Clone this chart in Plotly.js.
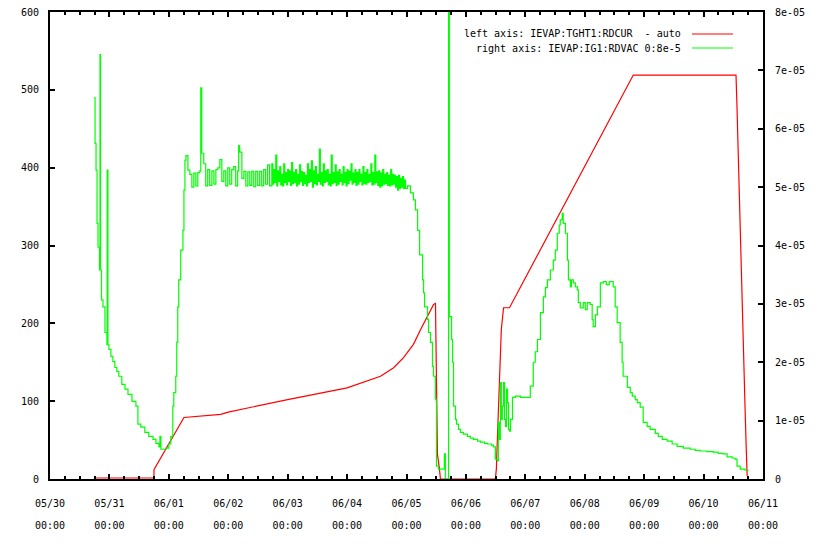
<!DOCTYPE html>
<html>
<head>
<meta charset="utf-8">
<script src="https://cdn.plot.ly/plotly-3.0.1.min.js"></script>
<style>html,body{margin:0;padding:0;background:#fff;}#chart{width:820px;height:554px;}</style>
</head>
<body>
<div id="chart"></div>
<script>
// ---- data (x in hours since 05/30 00:00) ----
const baseDay = '2012-05-30';
const tickDays = ['05/30','05/31','06/01','06/02','06/03','06/04','06/05','06/06','06/07','06/08','06/09','06/10','06/11'];
const tickTimes = ['00:00','00:00','00:00','00:00','00:00','00:00','00:00','00:00','00:00','00:00','00:00','00:00','00:00'];
const tickDates = ['2012-05-30','2012-05-31','2012-06-01','2012-06-02','2012-06-03','2012-06-04','2012-06-05','2012-06-06','2012-06-07','2012-06-08','2012-06-09','2012-06-10','2012-06-11'];
const leftTicks = [0,100,200,300,400,500,600];
const rightTickVals = [0,1e-5,2e-5,3e-5,4e-5,5e-5,6e-5,7e-5,8e-5];
const rightTickText = ['0','1e-05','2e-05','3e-05','4e-05','5e-05','6e-05','7e-05','8e-05'];

const redName = 'left axis: IEVAP:TGHT1:RDCUR  - auto';
const greenName = 'right axis: IEVAP:IG1:RDVAC 0:8e-5';

// IEVAP:TGHT1:RDCUR (left axis)
const redHours = [17.7,42.0,42.0,54.1,69.0,72.0,96.0,120.0,133.5,138.8,142.8,146.8,149.7,152.5,154.9,155.7,156.1,156.5,157.3,157.7,179.9,180.3,180.7,181.5,182.3,183.2,185.6,235.6,277.1,277.5,277.9,278.3,278.8,279.2,279.6,280.0,280.4,280.8,281.2,281.6];
const redVals  = [1.3,1.3,12,79,83,86,102,117,132,143,156,173,192,209,224,226,83,32,13,0,0,13,51,124,192,220,220,519,519,477,425,374,329,278,234,182,138,86,42,4];

// IEVAP:IG1:RDVAC (right axis), values in units of 1e-5
// segment 1: pump-down and rise (05/30 - 06/01)
const greenHoursA = [17.7,18.2,18.6,19.0,19.4,20.0,20.2,20.4,20.8,21.4,22.2,23.0,23.1,23.4,23.8,24.6,25.4,26.2,27.0,27.8,29.0,30.3,31.5,33.1,34.7,35.5,36.7,38.3,39.9,41.6,42.8,44.0,44.4,44.8,46.8,48.0,48.8,49.6,50.0,50.8,51.2,51.6,52.0,52.8,53.7,54.1,54.5,54.9];
const greenValsA  = [6.53,5.75,5.29,4.38,3.97,3.58,7.27,3.58,3.07,2.95,2.51,2.30,5.29,2.30,2.22,2.10,2.01,1.91,1.84,1.76,1.62,1.54,1.45,1.33,1.25,0.94,0.89,0.80,0.73,0.68,0.61,0.55,0.73,0.51,0.53,0.60,0.73,1.25,1.48,1.76,2.34,2.95,3.41,3.92,4.26,4.95,5.46,5.54];
// segment 2: noisy plateau 06/01 - 06/03
const greenHoursB = [55.7,56.5,57.3,58.1,58.9,59.7,60.5,60.9,61.3,62.1,62.9,63.7,64.5,65.4,66.2,67.0,67.8,68.6,69.4,70.2,71.0,71.8,72.6,73.4,74.2,75.0,75.8,76.2,76.6,77.5,78.3,79.1,79.9,80.7,81.5,82.3,83.1,83.9,84.7,85.5,86.3,87.1,87.9,88.7];
const greenValsB  = [5.29,5.22,5.00,5.24,5.02,5.25,5.28,6.70,5.58,5.40,5.02,5.30,5.03,5.28,5.05,5.30,5.33,5.47,5.10,5.28,5.02,5.33,5.05,5.30,5.35,5.02,5.28,5.71,5.60,5.15,5.27,5.02,5.26,5.03,5.27,5.01,5.27,5.03,5.27,5.02,5.30,5.05,5.38,5.02];
// segment 3: dense noisy plateau 06/03 - 06/05
const greenHoursC = [89.6,90.0,90.4,90.8,91.2,91.6,92.0,92.4,92.8,93.2,93.6,94.0,94.4,94.8,95.2,95.6,96.0,96.4,96.8,97.2,97.6,98.0,98.4,98.8,99.2,99.6,100.0,100.4,100.8,101.2,101.6,102.0,102.4,102.8,103.2,103.6,104.0,104.4,104.8,105.2,105.6,106.0,106.4,106.8,107.2,107.6,108.0,108.4,108.8,109.2,109.6,110.0,110.4,110.8,111.2,111.6,112.0,112.4,112.8,113.2,113.6,114.0,114.4,114.8,115.2,115.6,116.0,116.4,116.8,117.2,117.6,118.0,118.4,118.8,119.2,119.6,120.0,120.4,120.8,121.2,121.6,122.0,122.4,122.8,123.2,123.6,124.0,124.4,124.8,125.2,125.6,126.0,126.4,126.8,127.2,127.6,128.0,128.4,128.8,129.2,129.6,130.0,130.4,130.8,131.2,131.6,132.0,132.4,132.8,133.2,133.6,134.0,134.4,134.8,135.2,135.6,136.0,136.4,136.8,137.2,137.6,138.0,138.4,138.8,139.2,139.6,140.0,140.4,140.8,141.2,141.6,142.0,142.4,142.8,143.2,143.6];
const greenValsC  = [5.40,5.05,5.30,5.08,5.55,5.02,5.28,5.10,5.35,5.04,
5.22,5.02,5.40,5.08,5.25,5.04,5.30,5.10,5.28,5.03,
5.42,5.06,5.25,5.08,5.30,5.02,5.22,5.05,5.38,5.10,
5.27,5.03,5.25,5.06,5.20,5.02,5.40,5.08,5.30,5.10,
5.45,5.00,5.28,5.06,5.35,5.04,5.22,5.10,5.65,5.05,
5.25,5.02,5.40,5.08,5.28,5.10,5.30,5.04,5.22,5.02,
5.55,5.06,5.25,5.08,5.38,5.03,5.26,5.05,5.30,5.10,
5.22,5.04,5.35,5.08,5.25,5.02,5.30,5.06,5.27,5.12,
5.40,5.05,5.24,5.08,5.30,5.03,5.25,5.05,5.30,5.10,
5.22,5.04,5.35,5.06,5.25,5.05,5.30,5.08,5.22,5.10,
5.40,5.04,5.25,5.05,5.55,5.08,5.26,5.03,5.28,5.00,
5.24,5.02,5.30,5.05,5.22,5.06,5.25,5.03,5.20,5.02,
5.30,5.04,5.22,5.05,5.20,5.00,5.18,4.95,5.20,4.98,
5.15,5.00,5.18,4.98,5.12,4.98];
// segment 4: 06/05 drop, burst, second pump-down and bake (06/05 - 06/11)
const greenHoursD = [144.4,145.6,146.8,147.6,148.5,149.3,150.5,150.9,151.3,152.5,152.9,153.7,154.5,154.9,155.7,156.1,156.9,158.9,159.3,159.7,161.0,161.3,162.2,162.6,163.0,163.8,164.2,165.0,165.8,167.0,168.6,169.8,171.0,172.7,173.9,175.5,176.7,178.3,179.1,179.9,180.7,181.1,181.5,181.9,182.3,182.7,183.2,183.6,184.0,184.4,184.8,185.2,185.6,186.0,186.8,188.0,190.0,192.8,194.0,195.2,196.0,196.9,198.1,199.3,200.1,200.9,202.1,203.3,204.1,204.9,205.7,206.1,206.9,207.3,208.2,209.0,209.4,210.2,210.6,211.4,212.2,213.0,213.4,214.2,215.4,216.2,217.0,218.2,219.0,219.4,220.3,221.1,222.3,223.5,224.7,225.9,227.1,227.5,228.3,229.1,230.3,231.1,231.5,233.2,234.4,235.2,236.4,237.2,238.4,239.6,241.2,242.4,244.5,245.7,247.3,249.3,251.3,253.3,255.8,258.6,260.6,262.6,265.4,267.9,269.9,271.9,273.5,275.5,276.7,277.5,278.8,280.8,282.0];
const greenValsD  = [5.02,4.90,4.78,4.61,4.26,3.84,3.41,3.19,2.95,2.73,2.51,2.34,1.93,1.76,1.36,0.22,0.17,0.17,0.43,0.00,9.50,2.78,2.39,2.00,1.25,1.02,0.94,0.85,0.80,0.77,0.73,0.70,0.68,0.65,0.63,0.61,0.60,0.58,0.55,0.34,0.31,0.97,0.68,1.65,1.02,1.25,1.65,1.02,0.90,1.54,1.31,0.85,0.82,1.02,1.40,1.42,1.40,1.40,1.59,2.00,2.18,2.39,2.85,3.12,3.28,3.41,3.58,3.75,3.92,4.21,4.35,4.44,4.55,4.38,4.21,3.75,3.41,3.29,3.41,3.36,3.29,3.24,3.02,2.93,3.02,2.90,3.02,2.99,2.73,2.61,2.81,2.95,3.36,3.38,3.33,3.38,3.38,3.29,2.95,2.68,2.34,2.00,1.76,1.57,1.48,1.42,1.36,1.31,1.23,0.97,0.90,0.85,0.78,0.73,0.68,0.65,0.60,0.56,0.53,0.51,0.49,0.48,0.47,0.46,0.44,0.43,0.38,0.36,0.34,0.22,0.17,0.15,0.14];

// ---- helpers ----
const BASE_MS = Date.parse(baseDay + 'T00:00:00Z');
function hoursToDate(h){
  const d = new Date(BASE_MS + Math.round(h*3600000));
  return d.toISOString().replace('T',' ').slice(0,19);
}
const xRange = [tickDates[0] + ' 00:00:00', tickDates[tickDates.length-1] + ' 00:00:00'];
const greenHours = greenHoursA.concat(greenHoursB, greenHoursC, greenHoursD);
const greenValsE5 = greenValsA.concat(greenValsB, greenValsC, greenValsD);

const red = {
  x: redHours.map(hoursToDate), y: redVals, type:'scatter', mode:'lines', name: redName,
  line:{color:'#ff0000', width:1.2}, xaxis:'x', yaxis:'y', showlegend:false, hoverinfo:'skip'
};
const green = {
  x: greenHours.map(hoursToDate), y: greenValsE5.map(v=>v*1e-5), type:'scatter', mode:'lines', name: greenName,
  line:{color:'#00ff00', width:1.2, shape:'hv'}, xaxis:'x', yaxis:'y2', showlegend:false, hoverinfo:'skip'
};
const timeRow = {
  x:[xRange[0]], y:[null], type:'scatter', mode:'lines', xaxis:'x2', yaxis:'y', showlegend:false, hoverinfo:'skip'
};

const FONT = {family:'DejaVu Sans Mono, monospace', size:10, color:'#000'};
const layout = {
  width:820, height:554,
  margin:{l:50, r:57, t:12, b:75, pad:0},
  paper_bgcolor:'#fff', plot_bgcolor:'#fff',
  showlegend:false,
  font: FONT,
  xaxis:{
    type:'date', range:xRange, tickmode:'array', tickvals:tickDates, ticktext:tickDays,
    ticks:'inside', ticklen:5, tickwidth:2, tickcolor:'#000',
    minor:{tickmode:'linear', tick0:tickDates[0], dtick:21600000, ticks:'inside', ticklen:3, tickwidth:2, tickcolor:'#000', showgrid:false},
    showline:true, linewidth:2, linecolor:'#000', mirror:'ticks',
    showgrid:false, zeroline:false, tickfont:FONT, ticklabelstandoff:14, fixedrange:true
  },
  xaxis2:{
    type:'date', overlaying:'x', side:'bottom', anchor:'y', range:xRange, tickmode:'array', tickvals:tickDates, ticktext:tickTimes,
    ticks:'', showline:false, showgrid:false, zeroline:false, tickfont:FONT, ticklabelstandoff:39, fixedrange:true
  },
  yaxis:{
    range:[0,600], tickmode:'array', tickvals:leftTicks, ticks:'inside', ticklen:5, tickwidth:2, tickcolor:'#000',
    showline:true, linewidth:2, linecolor:'#000', mirror:true, showgrid:false, zeroline:false,
    tickfont:FONT, ticklabelstandoff:7, fixedrange:true
  },
  yaxis2:{
    overlaying:'y', side:'right', range:[0,8e-5], tickmode:'array', tickvals:rightTickVals, ticktext:rightTickText,
    ticks:'inside', ticklen:5, tickwidth:2, tickcolor:'#000',
    showline:true, linewidth:2, linecolor:'#000', showgrid:false, zeroline:false,
    tickfont:FONT, ticklabelstandoff:8, fixedrange:true
  },
  annotations:[
    {xref:'paper', yref:'paper', x:0.8878, y:0.9529, xanchor:'right', yanchor:'middle', text:redName, showarrow:false, font:FONT},
    {xref:'paper', yref:'paper', x:0.8878, y:0.9229, xanchor:'right', yanchor:'middle', text:greenName, showarrow:false, font:FONT}
  ],
  shapes:[
    {type:'line', xref:'paper', yref:'paper', x0:0.9004, x1:0.9579, y0:0.9529, y1:0.9529, line:{color:'#ff0000', width:1.2}},
    {type:'line', xref:'paper', yref:'paper', x0:0.9004, x1:0.9579, y0:0.9229, y1:0.9229, line:{color:'#00ff00', width:1.2}}
  ]
};

Plotly.newPlot('chart', [green, red, timeRow], layout, {displayModeBar:false, staticPlot:true});
</script>
</body>
</html>
